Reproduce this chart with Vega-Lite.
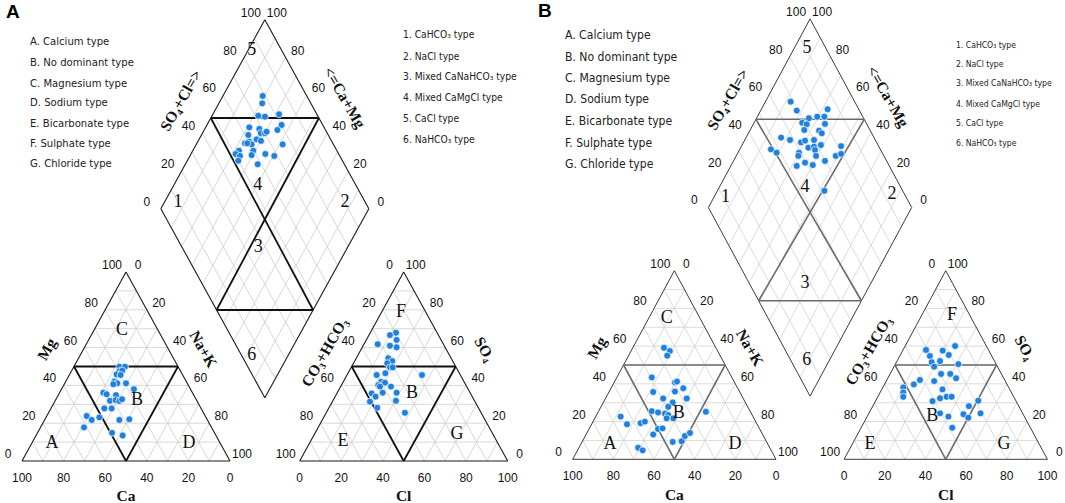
{
"$schema": "https://vega.github.io/schema/vega-lite/v6.json",
"padding": 0,
"spacing": 0,
"bounds": "flush",
"background": "white",
"config": {"view": {"stroke": null}},
"datasets": {
"grid": [
{"x":5,"y":8.660,"x2":95,"y2":8.660},{"x":10,"y":17.321,"x2":90,"y2":17.321},{"x":15,"y":25.981,"x2":85,"y2":25.981},{"x":20,"y":34.641,"x2":80,"y2":34.641},{"x":25,"y":43.301,"x2":75,"y2":43.301},{"x":30,"y":51.962,"x2":70,"y2":51.962},{"x":35,"y":60.622,"x2":65,"y2":60.622},{"x":40,"y":69.282,"x2":60,"y2":69.282},{"x":45,"y":77.942,"x2":55,"y2":77.942},
{"x":10,"y":0,"x2":5,"y2":8.660},{"x":20,"y":0,"x2":10,"y2":17.321},{"x":30,"y":0,"x2":15,"y2":25.981},{"x":40,"y":0,"x2":20,"y2":34.641},{"x":50,"y":0,"x2":25,"y2":43.301},{"x":60,"y":0,"x2":30,"y2":51.962},{"x":70,"y":0,"x2":35,"y2":60.622},{"x":80,"y":0,"x2":40,"y2":69.282},{"x":90,"y":0,"x2":45,"y2":77.942},
{"x":10,"y":0,"x2":55,"y2":77.942},{"x":20,"y":0,"x2":60,"y2":69.282},{"x":30,"y":0,"x2":65,"y2":60.622},{"x":40,"y":0,"x2":70,"y2":51.962},{"x":50,"y":0,"x2":75,"y2":43.301},{"x":60,"y":0,"x2":80,"y2":34.641},{"x":70,"y":0,"x2":85,"y2":25.981},{"x":80,"y":0,"x2":90,"y2":17.321},{"x":90,"y":0,"x2":95,"y2":8.660},
{"x":138.5,"y":8.660,"x2":228.5,"y2":8.660},{"x":143.5,"y":17.321,"x2":223.5,"y2":17.321},{"x":148.5,"y":25.981,"x2":218.5,"y2":25.981},{"x":153.5,"y":34.641,"x2":213.5,"y2":34.641},{"x":158.5,"y":43.301,"x2":208.5,"y2":43.301},{"x":163.5,"y":51.962,"x2":203.5,"y2":51.962},{"x":168.5,"y":60.622,"x2":198.5,"y2":60.622},{"x":173.5,"y":69.282,"x2":193.5,"y2":69.282},{"x":178.5,"y":77.942,"x2":188.5,"y2":77.942},
{"x":143.5,"y":0,"x2":138.5,"y2":8.660},{"x":153.5,"y":0,"x2":143.5,"y2":17.321},{"x":163.5,"y":0,"x2":148.5,"y2":25.981},{"x":173.5,"y":0,"x2":153.5,"y2":34.641},{"x":183.5,"y":0,"x2":158.5,"y2":43.301},{"x":193.5,"y":0,"x2":163.5,"y2":51.962},{"x":203.5,"y":0,"x2":168.5,"y2":60.622},{"x":213.5,"y":0,"x2":173.5,"y2":69.282},{"x":223.5,"y":0,"x2":178.5,"y2":77.942},
{"x":143.5,"y":0,"x2":188.5,"y2":77.942},{"x":153.5,"y":0,"x2":193.5,"y2":69.282},{"x":163.5,"y":0,"x2":198.5,"y2":60.622},{"x":173.5,"y":0,"x2":203.5,"y2":51.962},{"x":183.5,"y":0,"x2":208.5,"y2":43.301},{"x":193.5,"y":0,"x2":213.5,"y2":34.641},{"x":203.5,"y":0,"x2":218.5,"y2":25.981},{"x":213.5,"y":0,"x2":223.5,"y2":17.321},{"x":223.5,"y":0,"x2":228.5,"y2":8.660},
{"x":111.75,"y":37.672,"x2":161.75,"y2":124.275},{"x":106.75,"y":46.333,"x2":156.75,"y2":132.936},{"x":101.75,"y":54.993,"x2":151.75,"y2":141.596},{"x":96.75,"y":63.653,"x2":146.75,"y2":150.256},{"x":91.75,"y":72.314,"x2":141.75,"y2":158.917},{"x":86.75,"y":80.974,"x2":136.75,"y2":167.577},{"x":81.75,"y":89.634,"x2":131.75,"y2":176.237},{"x":76.75,"y":98.294,"x2":126.75,"y2":184.897},{"x":71.75,"y":106.955,"x2":121.75,"y2":193.558},
{"x":121.75,"y":37.672,"x2":71.75,"y2":124.275},{"x":126.75,"y":46.333,"x2":76.75,"y2":132.936},{"x":131.75,"y":54.993,"x2":81.75,"y2":141.596},{"x":136.75,"y":63.653,"x2":86.75,"y2":150.256},{"x":141.75,"y":72.314,"x2":91.75,"y2":158.917},{"x":146.75,"y":80.974,"x2":96.75,"y2":167.577},{"x":151.75,"y":89.634,"x2":101.75,"y2":176.237},{"x":156.75,"y":98.294,"x2":106.75,"y2":184.897},{"x":161.75,"y":106.955,"x2":111.75,"y2":193.558}
],
"frame": [
{"x":0,"y":0,"x2":100,"y2":0},{"x":0,"y":0,"x2":50,"y2":86.603},{"x":100,"y":0,"x2":50,"y2":86.603},
{"x":133.5,"y":0,"x2":233.5,"y2":0},{"x":133.5,"y":0,"x2":183.5,"y2":86.603},{"x":233.5,"y":0,"x2":183.5,"y2":86.603},
{"x":116.75,"y":29.012,"x2":66.75,"y2":115.615},{"x":66.75,"y":115.615,"x2":116.75,"y2":202.218},{"x":116.75,"y":202.218,"x2":166.75,"y2":115.615},{"x":166.75,"y":115.615,"x2":116.75,"y2":29.012}
],
"classA": [
{"x":25,"y":43.301,"x2":75,"y2":43.301},{"x":25,"y":43.301,"x2":50,"y2":0},{"x":75,"y":43.301,"x2":50,"y2":0},
{"x":158.5,"y":43.301,"x2":208.5,"y2":43.301},{"x":158.5,"y":43.301,"x2":183.5,"y2":0},{"x":208.5,"y":43.301,"x2":183.5,"y2":0},
{"x":90.76,"y":157.2,"x2":142.74,"y2":157.2},{"x":93.55,"y":69.2,"x2":139.95,"y2":69.2},{"x":90.76,"y":157.2,"x2":139.95,"y2":69.2},{"x":142.74,"y":157.2,"x2":93.55,"y2":69.2}
],
"classB": [
{"x":25,"y":43.301,"x2":75,"y2":43.301},{"x":25,"y":43.301,"x2":50,"y2":0},{"x":75,"y":43.301,"x2":50,"y2":0},
{"x":158.5,"y":43.301,"x2":208.5,"y2":43.301},{"x":158.5,"y":43.301,"x2":183.5,"y2":0},{"x":208.5,"y":43.301,"x2":183.5,"y2":0},
{"x":90.12,"y":156.1,"x2":143.38,"y2":156.1},{"x":91.47,"y":72.8,"x2":142.03,"y2":72.8},{"x":90.12,"y":156.1,"x2":142.03,"y2":72.8},{"x":143.38,"y":156.1,"x2":91.47,"y2":72.8}
],
"ticksLeft": [
{"x":0,"y":0,"t":"0"},{"x":10,"y":17.321,"t":"20"},{"x":20,"y":34.641,"t":"40"},{"x":30,"y":51.962,"t":"60"},{"x":40,"y":69.282,"t":"80"},{"x":50,"y":86.603,"t":"100"},
{"x":183.5,"y":86.603,"t":"0"},{"x":173.5,"y":69.282,"t":"20"},{"x":163.5,"y":51.962,"t":"40"},{"x":153.5,"y":34.641,"t":"60"},{"x":143.5,"y":17.321,"t":"80"},{"x":133.5,"y":0,"t":"100"},
{"x":66.75,"y":115.615,"t":"0"},{"x":76.75,"y":132.936,"t":"20"},{"x":86.75,"y":150.256,"t":"40"},{"x":96.75,"y":167.577,"t":"60"},{"x":106.75,"y":184.897,"t":"80"},{"x":116.75,"y":202.218,"t":"100"}
],
"ticksRight": [
{"x":50,"y":86.603,"t":"0"},{"x":60,"y":69.282,"t":"20"},{"x":70,"y":51.962,"t":"40"},{"x":80,"y":34.641,"t":"60"},{"x":90,"y":17.321,"t":"80"},{"x":100,"y":0,"t":"100"},
{"x":183.5,"y":86.603,"t":"100"},{"x":193.5,"y":69.282,"t":"80"},{"x":203.5,"y":51.962,"t":"60"},{"x":213.5,"y":34.641,"t":"40"},{"x":223.5,"y":17.321,"t":"20"},{"x":233.5,"y":0,"t":"0"},
{"x":166.75,"y":115.615,"t":"0"},{"x":156.75,"y":132.936,"t":"20"},{"x":146.75,"y":150.256,"t":"40"},{"x":136.75,"y":167.577,"t":"60"},{"x":126.75,"y":184.897,"t":"80"},{"x":116.75,"y":202.218,"t":"100"}
],
"ticksBottom": [
{"x":0,"y":0,"t":"100"},{"x":20,"y":0,"t":"80"},{"x":40,"y":0,"t":"60"},{"x":60,"y":0,"t":"40"},{"x":80,"y":0,"t":"20"},{"x":100,"y":0,"t":"0"},
{"x":133.5,"y":0,"t":"0"},{"x":153.5,"y":0,"t":"20"},{"x":173.5,"y":0,"t":"40"},{"x":193.5,"y":0,"t":"60"},{"x":213.5,"y":0,"t":"80"},{"x":233.5,"y":0,"t":"100"}
],
"titlesUp": [
{"x":76.4,"y":165.2,"t":"SO₄+Cl=>"},{"x":12,"y":51.2,"t":"Mg"},{"x":145.5,"y":49.8,"t":"CO₃+HCO₃"}
],
"titlesDown": [
{"x":155,"y":166.5,"t":"<=Ca+Mg"},{"x":87.1,"y":51.2,"t":"Na+K"},{"x":222.3,"y":51.2,"t":"SO₄"}
],
"titlesFlat": [
{"x":50,"y":-16.2,"t":"Ca"},{"x":183.5,"y":-16.2,"t":"Cl"}
],
"regionsA": [
{"x":75,"y":118.7,"t":"1"},{"x":155.3,"y":118.7,"t":"2"},{"x":113.6,"y":98.2,"t":"3"},{"x":113.3,"y":126.5,"t":"4"},{"x":110.4,"y":188.4,"t":"5"},{"x":110.4,"y":48.6,"t":"6"},
{"x":48.1,"y":60.0,"t":"C"},{"x":55.3,"y":28.0,"t":"B"},{"x":14.4,"y":8.2,"t":"A"},{"x":80.3,"y":8.2,"t":"D"},
{"x":182.2,"y":68.3,"t":"F"},{"x":187.5,"y":31.2,"t":"B"},{"x":154.3,"y":9.2,"t":"E"},{"x":209.1,"y":12.4,"t":"G"}
],
"regionsB": [
{"x":75.1,"y":120.4,"t":"1"},{"x":157.1,"y":121.8,"t":"2"},{"x":114.3,"y":80.8,"t":"3"},{"x":114.3,"y":125.2,"t":"4"},{"x":115.3,"y":188.8,"t":"5"},{"x":115.1,"y":45.6,"t":"6"},
{"x":46.3,"y":65.0,"t":"C"},{"x":52.2,"y":21.3,"t":"B"},{"x":18.3,"y":7.0,"t":"A"},{"x":79.8,"y":7.0,"t":"D"},
{"x":186.6,"y":66.3,"t":"F"},{"x":176.8,"y":19.9,"t":"B"},{"x":146.2,"y":7.0,"t":"E"},{"x":212.1,"y":7.0,"t":"G"}
],
"legendA1": [
{"x":3.85,"y":192.0,"t":"A. Calcium type"},{"x":3.85,"y":182.4,"t":"B. No dominant type"},{"x":3.85,"y":173.0,"t":"C. Magnesium type"},{"x":3.85,"y":163.9,"t":"D. Sodium type"},{"x":3.85,"y":154.3,"t":"E. Bicarbonate type"},{"x":3.85,"y":145.1,"t":"F. Sulphate type"},{"x":3.85,"y":135.9,"t":"G. Chloride type"}
],
"legendA2": [
{"x":183.2,"y":195.2,"t":"1. CaHCO₃ type"},{"x":183.2,"y":185.2,"t":"2. NaCl type"},{"x":183.2,"y":176.0,"t":"3. Mixed CaNaHCO₃ type"},{"x":183.2,"y":166.4,"t":"4. Mixed CaMgCl type"},{"x":183.2,"y":156.7,"t":"5. CaCl type"},{"x":183.2,"y":147.1,"t":"6. NaHCO₃ type"}
],
"legendB1": [
{"x":-3.8,"y":194.8,"t":"A. Calcium type"},{"x":-3.8,"y":184.7,"t":"B. No dominant type"},{"x":-3.8,"y":175.1,"t":"C. Magnesium type"},{"x":-3.8,"y":165.4,"t":"D. Sodium type"},{"x":-3.8,"y":155.3,"t":"E. Bicarbonate type"},{"x":-3.8,"y":145.2,"t":"F. Sulphate type"},{"x":-3.8,"y":135.6,"t":"G. Chloride type"}
],
"legendB2": [
{"x":188.5,"y":190.2,"t":"1. CaHCO₃ type"},{"x":188.5,"y":181.5,"t":"2. NaCl type"},{"x":188.5,"y":172.8,"t":"3. Mixed CaNaHCO₃ type"},{"x":188.5,"y":163.2,"t":"4. Mixed CaMgCl type"},{"x":188.5,"y":154.4,"t":"5. CaCl type"},{"x":188.5,"y":145.2,"t":"6. NaHCO₃ type"}
],
"ptsA": [
{"x":115.7,"y":167.3},{"x":115.5,"y":163.9},{"x":113.6,"y":158.2},{"x":116.8,"y":157.8},{"x":123.6,"y":158.9},{"x":124.8,"y":154.0},{"x":122.8,"y":151.7},{"x":109.3,"y":152.9},{"x":114.1,"y":152.2},{"x":114.8,"y":150.2},{"x":116.8,"y":150.2},{"x":117.6,"y":150.9},{"x":108.8,"y":149.4},{"x":112.8,"y":147.4},{"x":114.9,"y":146.7},{"x":107.2,"y":145.6},{"x":109.3,"y":146.3},{"x":110.4,"y":145.1},{"x":111.2,"y":142.2},{"x":110.4,"y":140.2},{"x":104.3,"y":142.2},{"x":102.7,"y":140.7},{"x":104.8,"y":139.8},{"x":104.0,"y":137.6},{"x":117.0,"y":140.7},{"x":121.3,"y":139.8},{"x":125.3,"y":145.1},{"x":113.3,"y":136.0},{"x":108.3,"y":145.6},
{"x":46.8,"y":43.2},{"x":49.5,"y":43.2},{"x":46.8,"y":41.2},{"x":48.2,"y":41.4},{"x":45.5,"y":39.7},{"x":47.4,"y":39.4},{"x":44.4,"y":36.4},{"x":45.8,"y":35.6},{"x":43.9,"y":35.2},{"x":50.0,"y":35.6},{"x":53.8,"y":32.9},{"x":39.1,"y":31.3},{"x":40.7,"y":30.6},{"x":45.2,"y":30.2},{"x":42.3,"y":27.6},{"x":45.0,"y":27.9},{"x":46.8,"y":27.5},{"x":48.1,"y":28.3},{"x":39.6,"y":24.1},{"x":43.1,"y":24.1},{"x":31.1,"y":20.6},{"x":33.5,"y":18.8},{"x":37.2,"y":20.0},{"x":46.8,"y":18.8},{"x":51.6,"y":19.1},{"x":29.8,"y":15.4},{"x":43.3,"y":12.9},{"x":48.4,"y":11.7},
{"x":179.8,"y":58.8},{"x":176.9,"y":57.7},{"x":180.1,"y":55.5},{"x":171.0,"y":53.5},{"x":176.9,"y":52.8},{"x":180.1,"y":52.1},{"x":176.1,"y":47.1},{"x":178.0,"y":45.8},{"x":175.6,"y":44.8},{"x":176.9,"y":42.9},{"x":178.2,"y":42.9},{"x":170.5,"y":39.4},{"x":174.7,"y":40.2},{"x":192.3,"y":39.4},{"x":172.6,"y":36.3},{"x":171.3,"y":34.8},{"x":174.5,"y":35.9},{"x":172.1,"y":34.1},{"x":177.4,"y":34.1},{"x":173.4,"y":31.3},{"x":180.1,"y":31.3},{"x":168.1,"y":31.0},{"x":170.0,"y":29.5},{"x":167.3,"y":27.2},{"x":179.8,"y":27.6},{"x":170.8,"y":24.4},{"x":184.1,"y":22.1}
],
"ptsB": [
{"x":107.2,"y":164.2},{"x":110.2,"y":160.1},{"x":125.4,"y":160.7},{"x":116.2,"y":156.6},{"x":120.3,"y":157.3},{"x":123.8,"y":157.3},{"x":112.9,"y":154.5},{"x":115.1,"y":153.8},{"x":124.1,"y":154.0},{"x":113.9,"y":151.2},{"x":121.2,"y":150.9},{"x":122.5,"y":149.7},{"x":102.5,"y":147.7},{"x":106.9,"y":146.6},{"x":112.3,"y":145.5},{"x":114.3,"y":146.3},{"x":118.7,"y":146.6},{"x":122.1,"y":144.3},{"x":97.5,"y":142.3},{"x":100.3,"y":140.8},{"x":115.9,"y":143.1},{"x":118.7,"y":143.5},{"x":119.2,"y":142.0},{"x":132.0,"y":143.8},{"x":111.3,"y":140.8},{"x":111.0,"y":139.3},{"x":119.7,"y":139.3},{"x":129.4,"y":139.3},{"x":132.0,"y":140.2},{"x":110.2,"y":134.7},{"x":114.3,"y":136.2},{"x":118.1,"y":135.1},{"x":124.1,"y":137.0},{"x":123.8,"y":123.3},
{"x":44.9,"y":51.2},{"x":47.8,"y":49.7},{"x":46.5,"y":47.6},{"x":38.9,"y":37.6},{"x":50.3,"y":35.3},{"x":51.3,"y":35.7},{"x":54.4,"y":32.6},{"x":39.6,"y":30.9},{"x":50.3,"y":31.1},{"x":44.5,"y":27.9},{"x":56.1,"y":27.9},{"x":49.2,"y":26.1},{"x":47.0,"y":24.1},{"x":38.9,"y":22.1},{"x":42.0,"y":21.5},{"x":45.4,"y":21.0},{"x":47.0,"y":20.3},{"x":46.2,"y":18.8},{"x":49.5,"y":18.8},{"x":65.5,"y":21.8},{"x":23.6,"y":19.6},{"x":26.7,"y":16.1},{"x":33.4,"y":16.6},{"x":35.5,"y":17.3},{"x":42.0,"y":13.9},{"x":44.2,"y":14.2},{"x":39.6,"y":11.4},{"x":49.2,"y":8.0},{"x":53.6,"y":8.3},{"x":55.2,"y":10.7},{"x":57.7,"y":12.1},{"x":32.2,"y":5.3},{"x":34.4,"y":4.1},
{"x":173.8,"y":50.2},{"x":175.7,"y":47.4},{"x":182.0,"y":49.9},{"x":185.0,"y":47.9},{"x":188.1,"y":52.0},{"x":176.6,"y":44.6},{"x":180.7,"y":45.1},{"x":177.8,"y":42.5},{"x":189.7,"y":43.7},{"x":181.2,"y":39.2},{"x":185.7,"y":39.2},{"x":188.6,"y":37.2},{"x":177.8,"y":35.9},{"x":170.8,"y":36.4},{"x":167.8,"y":34.4},{"x":162.6,"y":33.0},{"x":162.6,"y":30.7},{"x":162.6,"y":28.7},{"x":181.9,"y":32.1},{"x":183.9,"y":28.7},{"x":186.4,"y":28.7},{"x":180.7,"y":28.0},{"x":177.0,"y":26.7},{"x":199.5,"y":26.9},{"x":194.9,"y":24.4},{"x":180.7,"y":21.1},{"x":184.8,"y":19.6},{"x":192.2,"y":20.7},{"x":194.6,"y":19.1},{"x":200.6,"y":21.1},{"x":186.7,"y":14.5}
],
"panelA": [{"x":-7.7,"y":205.8,"t":"A"}],
"panelB": [{"x":-17.1,"y":205.8,"t":"B"}]
},
"hconcat": [
{
"width": 520, "height": 503,
"encoding": {
"x": {"field": "x", "type": "quantitative", "axis": null, "scale": {"domain": [-10.577, 239.423], "nice": false, "zero": false}},
"y": {"field": "y", "type": "quantitative", "axis": null, "scale": {"domain": [-19.248, 211.274], "nice": false, "zero": false}}
},
"layer": [
{"data": {"name": "grid"}, "mark": {"type": "rule", "color": "#cdcdcd", "strokeWidth": 0.8}, "encoding": {"x2": {"field": "x2"}, "y2": {"field": "y2"}}},
{"data": {"name": "frame"}, "mark": {"type": "rule", "color": "#1a1a1a", "strokeWidth": 1.1}, "encoding": {"x2": {"field": "x2"}, "y2": {"field": "y2"}}},
{"data": {"name": "classA"}, "mark": {"type": "rule", "color": "#111111", "strokeWidth": 1.8}, "encoding": {"x2": {"field": "x2"}, "y2": {"field": "y2"}}},
{"data": {"name": "ptsA"}, "mark": {"type": "circle", "size": 48, "color": "#1f80de", "opacity": 1, "stroke": "white", "strokeWidth": 0.7}},
{"data": {"name": "ticksLeft"}, "mark": {"type": "text", "font": "Liberation Sans", "fontSize": 12, "dx": -14, "dy": -7, "align": "center", "baseline": "middle", "color": "#111"}, "encoding": {"text": {"field": "t"}}},
{"data": {"name": "ticksRight"}, "mark": {"type": "text", "font": "Liberation Sans", "fontSize": 12, "dx": 12, "dy": -7, "align": "center", "baseline": "middle", "color": "#111"}, "encoding": {"text": {"field": "t"}}},
{"data": {"name": "ticksBottom"}, "mark": {"type": "text", "font": "Liberation Sans", "fontSize": 12, "dy": 17, "align": "center", "baseline": "middle", "color": "#111"}, "encoding": {"text": {"field": "t"}}},
{"data": {"name": "titlesUp"}, "mark": {"type": "text", "font": "Liberation Serif", "fontWeight": "bold", "fontSize": 15.5, "angle": -60, "align": "center", "baseline": "middle", "color": "#111"}, "encoding": {"text": {"field": "t"}}},
{"data": {"name": "titlesDown"}, "mark": {"type": "text", "font": "Liberation Serif", "fontWeight": "bold", "fontSize": 15.5, "angle": 60, "align": "center", "baseline": "middle", "color": "#111"}, "encoding": {"text": {"field": "t"}}},
{"data": {"name": "titlesFlat"}, "mark": {"type": "text", "font": "Liberation Serif", "fontWeight": "bold", "fontSize": 15.5, "align": "center", "baseline": "middle", "color": "#111"}, "encoding": {"text": {"field": "t"}}},
{"data": {"name": "regionsA"}, "mark": {"type": "text", "font": "Liberation Serif", "fontSize": 18, "align": "center", "baseline": "middle", "color": "#111"}, "encoding": {"text": {"field": "t"}}},
{"data": {"name": "legendA1"}, "mark": {"type": "text", "font": "DejaVu Sans Condensed", "fontSize": 11.2, "align": "left", "baseline": "middle", "color": "#222"}, "encoding": {"text": {"field": "t"}}},
{"data": {"name": "legendA2"}, "mark": {"type": "text", "font": "DejaVu Sans Condensed", "fontSize": 10.2, "align": "left", "baseline": "middle", "color": "#222"}, "encoding": {"text": {"field": "t"}}},
{"data": {"name": "panelA"}, "mark": {"type": "text", "font": "Liberation Sans", "fontWeight": "bold", "fontSize": 19, "align": "left", "baseline": "middle", "color": "#000"}, "encoding": {"text": {"field": "t"}}}
]
},
{
"width": 545, "height": 503,
"encoding": {
"x": {"field": "x", "type": "quantitative", "axis": null, "scale": {"domain": [-25.923, 242.155], "nice": false, "zero": false}},
"y": {"field": "y", "type": "quantitative", "axis": null, "scale": {"domain": [-20.064, 210.882], "nice": false, "zero": false}}
},
"layer": [
{"data": {"name": "grid"}, "mark": {"type": "rule", "color": "#d2d2d2", "strokeWidth": 0.8}, "encoding": {"x2": {"field": "x2"}, "y2": {"field": "y2"}}},
{"data": {"name": "frame"}, "mark": {"type": "rule", "color": "#3a3a3a", "strokeWidth": 1.0}, "encoding": {"x2": {"field": "x2"}, "y2": {"field": "y2"}}},
{"data": {"name": "classB"}, "mark": {"type": "rule", "color": "#6a6a6a", "strokeWidth": 1.6}, "encoding": {"x2": {"field": "x2"}, "y2": {"field": "y2"}}},
{"data": {"name": "ptsB"}, "mark": {"type": "circle", "size": 48, "color": "#1f80de", "opacity": 1, "stroke": "white", "strokeWidth": 0.7}},
{"data": {"name": "ticksLeft"}, "mark": {"type": "text", "font": "Liberation Sans", "fontSize": 12, "dx": -14, "dy": -7, "align": "center", "baseline": "middle", "color": "#111"}, "encoding": {"text": {"field": "t"}}},
{"data": {"name": "ticksRight"}, "mark": {"type": "text", "font": "Liberation Sans", "fontSize": 12, "dx": 12, "dy": -7, "align": "center", "baseline": "middle", "color": "#111"}, "encoding": {"text": {"field": "t"}}},
{"data": {"name": "ticksBottom"}, "mark": {"type": "text", "font": "Liberation Sans", "fontSize": 12, "dy": 17, "align": "center", "baseline": "middle", "color": "#111"}, "encoding": {"text": {"field": "t"}}},
{"data": {"name": "titlesUp"}, "mark": {"type": "text", "font": "Liberation Serif", "fontWeight": "bold", "fontSize": 15.5, "angle": -60, "align": "center", "baseline": "middle", "color": "#111"}, "encoding": {"text": {"field": "t"}}},
{"data": {"name": "titlesDown"}, "mark": {"type": "text", "font": "Liberation Serif", "fontWeight": "bold", "fontSize": 15.5, "angle": 60, "align": "center", "baseline": "middle", "color": "#111"}, "encoding": {"text": {"field": "t"}}},
{"data": {"name": "titlesFlat"}, "mark": {"type": "text", "font": "Liberation Serif", "fontWeight": "bold", "fontSize": 15.5, "align": "center", "baseline": "middle", "color": "#111"}, "encoding": {"text": {"field": "t"}}},
{"data": {"name": "regionsB"}, "mark": {"type": "text", "font": "Liberation Serif", "fontSize": 18, "align": "center", "baseline": "middle", "color": "#111"}, "encoding": {"text": {"field": "t"}}},
{"data": {"name": "legendB1"}, "mark": {"type": "text", "font": "DejaVu Sans Condensed", "fontSize": 12.1, "align": "left", "baseline": "middle", "color": "#222"}, "encoding": {"text": {"field": "t"}}},
{"data": {"name": "legendB2"}, "mark": {"type": "text", "font": "DejaVu Sans Condensed", "fontSize": 8.6, "align": "left", "baseline": "middle", "color": "#222"}, "encoding": {"text": {"field": "t"}}},
{"data": {"name": "panelB"}, "mark": {"type": "text", "font": "Liberation Sans", "fontWeight": "bold", "fontSize": 19, "align": "left", "baseline": "middle", "color": "#000"}, "encoding": {"text": {"field": "t"}}}
]
}
]
}
